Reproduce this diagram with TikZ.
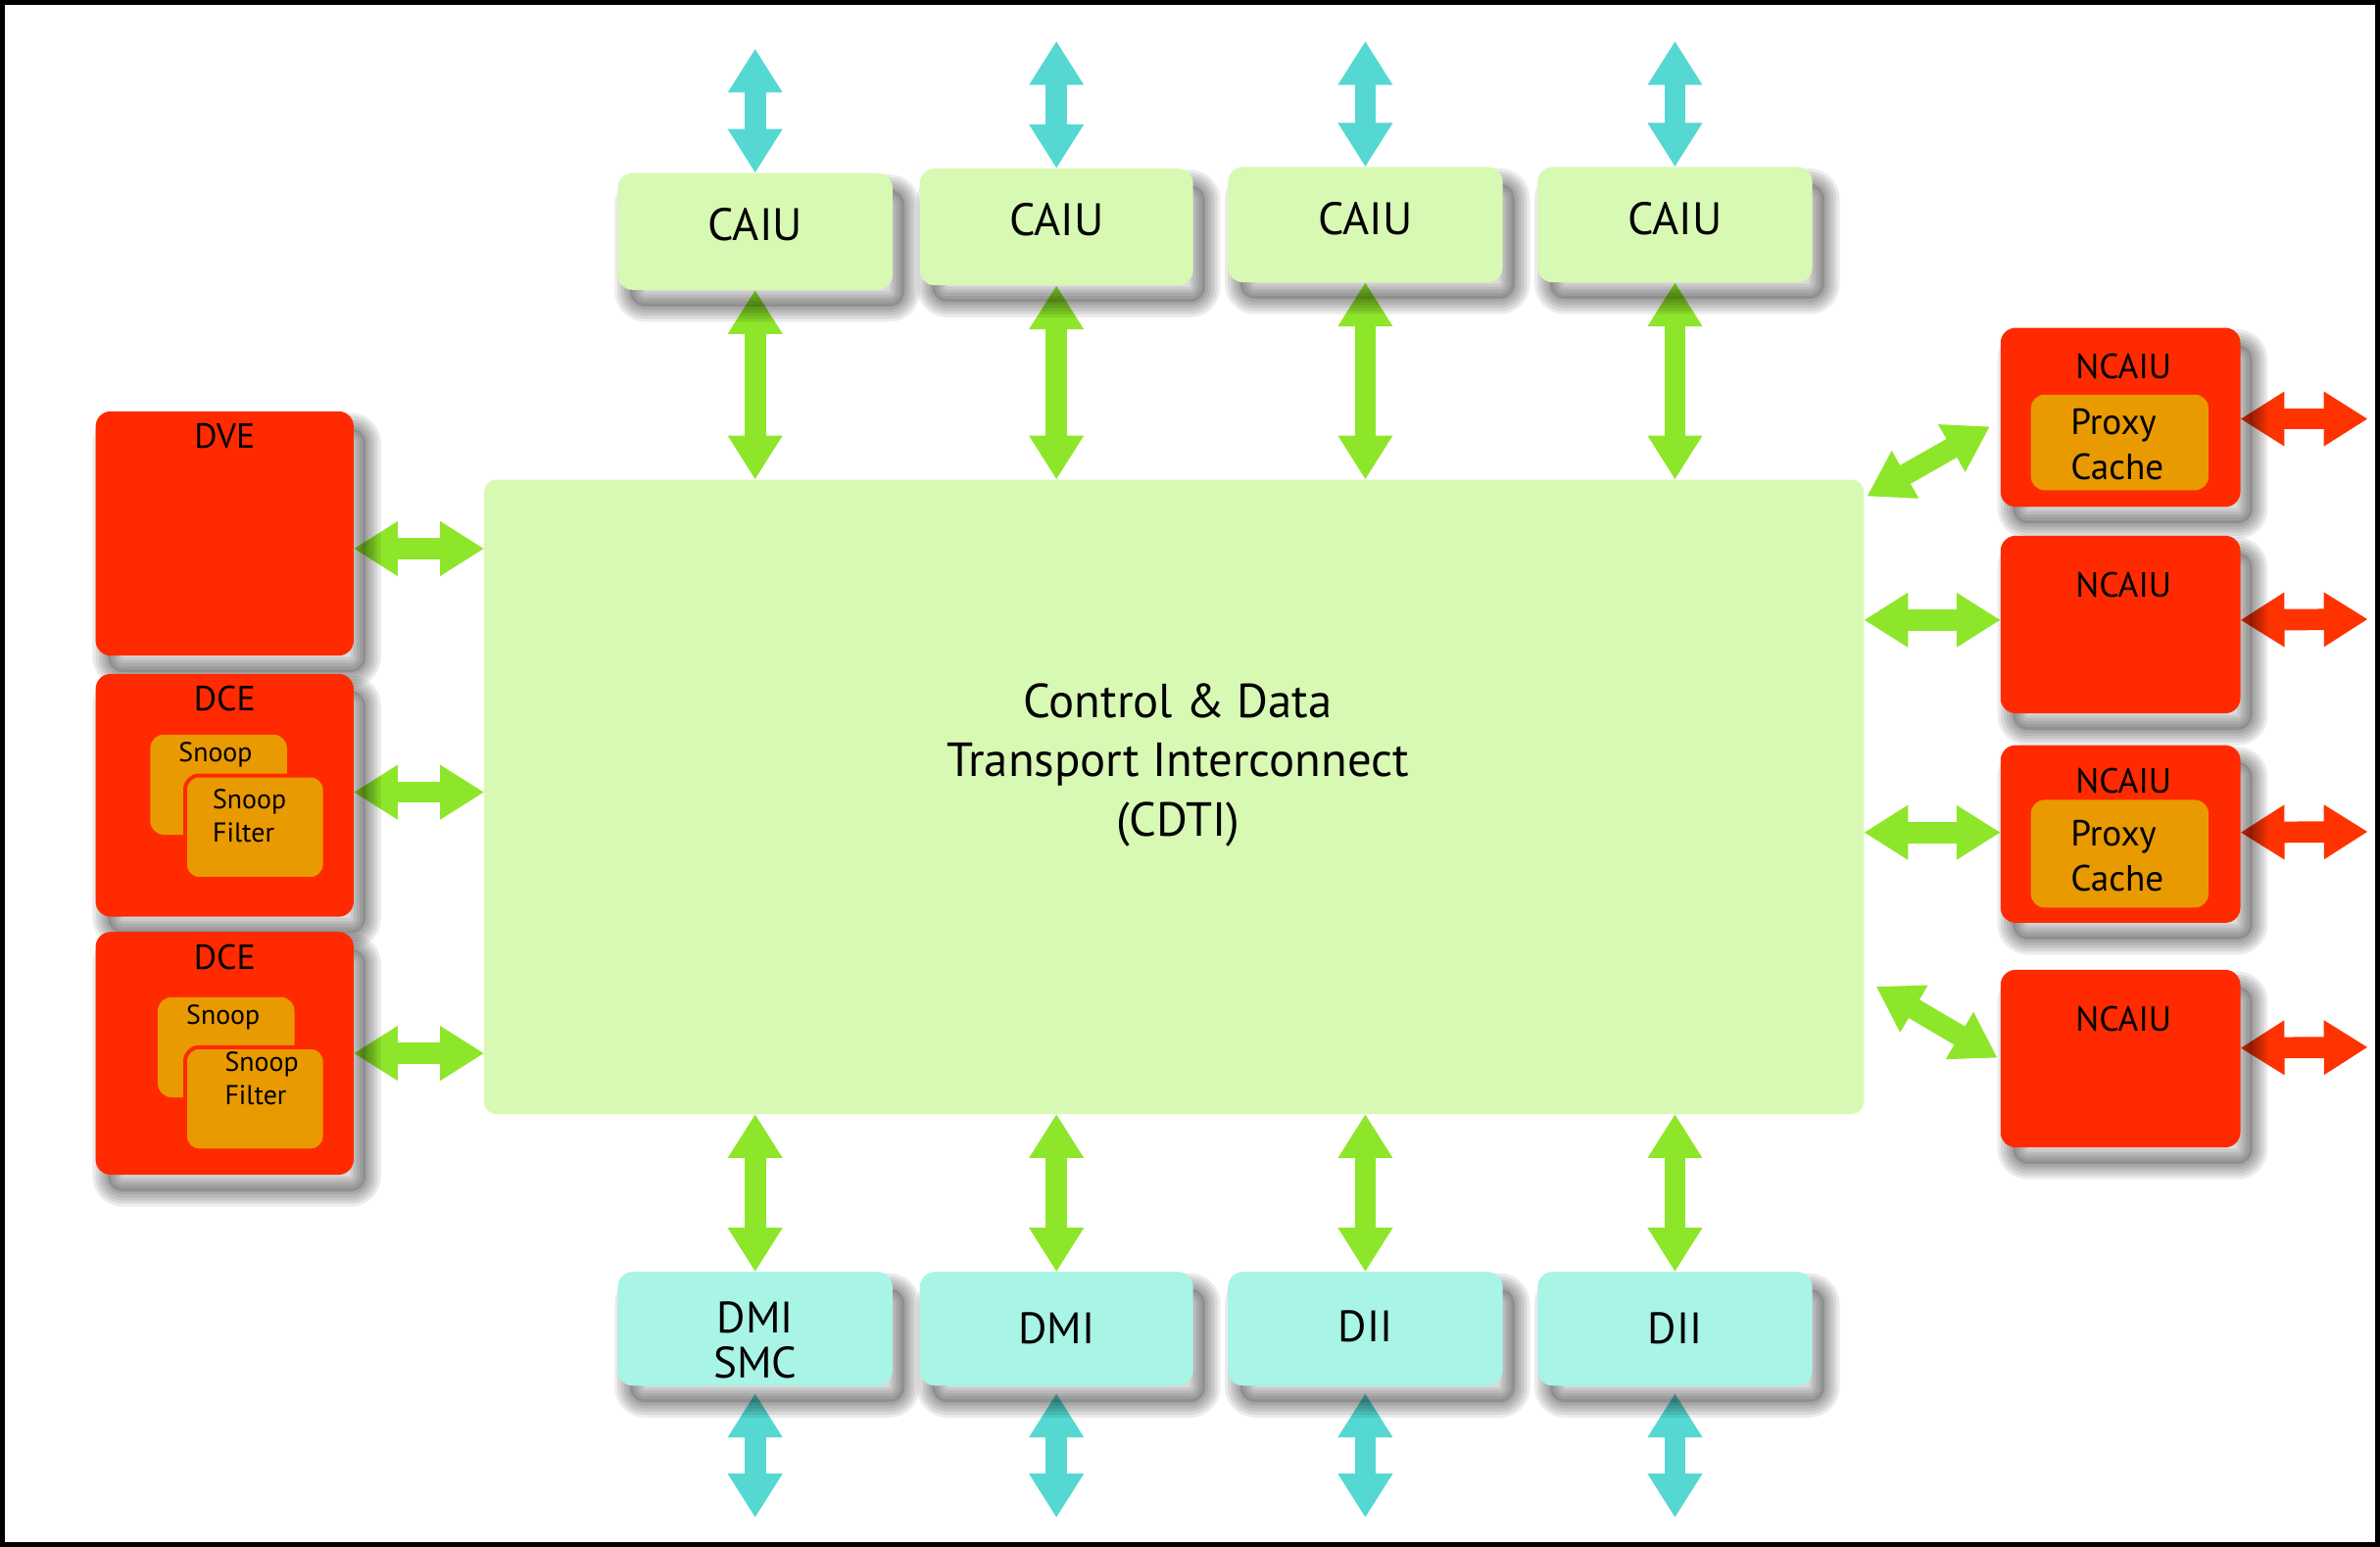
\documentclass[tikz,border=0pt]{standalone}
\usepackage{fontspec}
\setmainfont{PT Sans}
\usetikzlibrary{arrows.meta,calc}
\definecolor{redbox}{HTML}{FF2A00}
\definecolor{orbox}{HTML}{E89A00}
\definecolor{lgreen}{HTML}{D8F9B4}
\definecolor{lcyan}{HTML}{A8F4E6}
\definecolor{garrow}{HTML}{8EE62A}
\definecolor{carrow}{HTML}{55D8D2}
\definecolor{rarrow}{HTML}{FF3300}
\pgfdeclarelayer{bg}
\pgfsetlayers{bg,main}
\tikzset{
  sstep/.style={preaction={draw=black, draw opacity=0.08, line width=#1, transform canvas={xshift=8pt,yshift=-11pt}}},
  shad/.style={sstep=20pt, sstep=16pt, sstep=12pt, sstep=8pt, sstep=4pt,
    preaction={fill=black, fill opacity=0.14, transform canvas={xshift=8pt,yshift=-11pt}}},
  boxbase/.style={anchor=north west, rounded corners=10pt, inner sep=0pt, outer sep=0pt},
  topbox/.style={boxbase, fill=lgreen, shad, minimum width=181pt, minimum height=77pt, text depth=10pt, font=\fontsize{30}{34}\selectfont},
  botbox/.style={boxbase, fill=lcyan, shad, minimum width=181pt, minimum height=75pt, font=\fontsize{29}{30}\selectfont, align=center},
  redunit/.style={boxbase, fill=redbox, shad},
  toplabel/.style={anchor=north, font=\fontsize{23}{26}\selectfont, inner sep=0pt},
  inbox/.style={boxbase, fill=orbox, rounded corners=9pt},
  arr/.style={line width=14pt, {Triangle[width=34pt,length=29pt]}-{Triangle[width=34pt,length=29pt]}},
  garr/.style={arr, draw=garrow},
  carr/.style={arr, draw=carrow},
  rarr/.style={arr, draw=rarrow},
}
\begin{document}
\begin{tikzpicture}[x=1pt,y=-1pt]
\useasboundingbox (0,0) rectangle (1568,1019);
\begin{pgfonlayer}{bg}
\fill[white] (0,0) rectangle (1568,1019);
\end{pgfonlayer}
\draw[line width=3pt] (1.5,1.5) rectangle (1566.5,1017.5);

% central interconnect
\node[boxbase, fill=lgreen, rounded corners=8pt, minimum width=909pt, minimum height=418pt] (cdti) at (319,316) {};
\node[align=center, font=\fontsize{31.5}{39}\selectfont] (cdtitxt) at (776,504) {Control \& Data\\Transport Interconnect\\(CDTI)};

% top CAIU row
\node[topbox] (caiu1) at (407,114) {CAIU};
\node[topbox, minimum width=180pt] (caiu2) at (606,111) {CAIU};
\node[topbox, minimum height=76pt, text depth=8pt] (caiu3) at (809,110) {CAIU};
\node[topbox, minimum height=76pt, text depth=8pt] (caiu4) at (1013,110) {CAIU};

% bottom row
\node[botbox] (dmi1) at (407,838) {};
\node[align=center, font=\fontsize{29}{30}\selectfont, inner sep=0pt] (dmi1t) at (497.5,883) {DMI\\SMC};
\node[botbox, minimum width=180pt] (dmi2) at (606,838) {DMI};
\node[botbox, text depth=4pt] (dii1) at (809,838) {DII};
\node[botbox] (dii2) at (1013,838) {DII};

% left units
\node[redunit, minimum width=170pt, minimum height=161pt] (dve) at (63,271) {};
\node[toplabel] (dvel) at ($(dve.north)+(0,8)$) {DVE};
\node[redunit, minimum width=170pt, minimum height=160pt] (dce1) at (63,444) {};
\node[toplabel] (dce1l) at ($(dce1.north)+(0,8)$) {DCE};
\node[redunit, minimum width=170pt, minimum height=160pt] (dce2) at (63,614) {};
\node[toplabel] (dce2l) at ($(dce2.north)+(0,8)$) {DCE};

% snoop boxes
\node[inbox, minimum width=90pt, minimum height=66pt] (sb1) at (99,484) {};
\node[anchor=north, font=\fontsize{18}{21}\selectfont, inner sep=0pt] (sb1t) at (142,489) {Snoop};
\node[inbox, draw=redbox, line width=2.5pt, minimum width=92pt, minimum height=68pt] (sf1) at (122,511) {};
\node[anchor=north west, align=left, font=\fontsize{18}{22}\selectfont, inner sep=0pt] (sf1t) at (140,520) {Snoop\\Filter};

\node[inbox, minimum width=90pt, minimum height=66pt] (sb2) at (104,657) {};
\node[anchor=north, font=\fontsize{18}{21}\selectfont, inner sep=0pt] (sb2t) at (147,662) {Snoop};
\node[inbox, draw=redbox, line width=2.5pt, minimum width=92pt, minimum height=68pt] (sf2) at (122,690) {};
\node[anchor=north west, align=left, font=\fontsize{18}{22}\selectfont, inner sep=0pt] (sf2t) at (148,693) {Snoop\\Filter};

% right units
\node[redunit, minimum width=158pt, minimum height=118pt] (n1) at (1318,216) {};
\node[toplabel] (n1l) at ($(n1.north)+(2,17)$) {NCAIU};
\node[redunit, minimum width=158pt, minimum height=117pt] (n2) at (1318,353) {};
\node[toplabel] (n2l) at ($(n2.north)+(2,24)$) {NCAIU};
\node[redunit, minimum width=158pt, minimum height=117pt] (n3) at (1318,491) {};
\node[toplabel] (n3l) at ($(n3.north)+(2,15)$) {NCAIU};
\node[redunit, minimum width=158pt, minimum height=117pt] (n4) at (1318,639) {};
\node[toplabel] (n4l) at ($(n4.north)+(2,24)$) {NCAIU};

\node[inbox, minimum width=117pt, minimum height=63pt] (pc1) at (1338,260) {};
\node[anchor=north west, align=left, font=\fontsize{24}{30}\selectfont, inner sep=0pt] (pc1t) at (1364,269) {Proxy\\Cache};
\node[inbox, minimum width=117pt, minimum height=71pt] (pc3) at (1338,527) {};
\node[anchor=north west, align=left, font=\fontsize{24}{30}\selectfont, inner sep=0pt] (pc3t) at (1364,540) {Proxy\\Cache};

% free ends
\coordinate (t1) at (497.5,32);
\coordinate (t2) at (696,27);
\coordinate (t3) at (899.5,27);
\coordinate (t4) at (1103.5,27);
\coordinate (b1) at (497.5,1000);
\coordinate (b2) at (696,1000);
\coordinate (b3) at (899.5,1000);
\coordinate (b4) at (1103.5,1000);
\coordinate (r1) at (1560,276);
\coordinate (r2) at (1560,408);
\coordinate (r3) at (1560,548);
\coordinate (r4) at (1560,690);
\coordinate (g1a) at (1230,327);
\coordinate (g1b) at (1311,281);
\coordinate (g4a) at (1236,650);
\coordinate (g4b) at (1316,697);

\begin{pgfonlayer}{bg}
% top
\foreach \n/\t in {caiu1/t1,caiu2/t2,caiu3/t3,caiu4/t4}{
  \draw[carr] (\t) -- (\n.north);
  \draw[garr] (\n.south) -- (\n.south |- cdti.north);
}
% bottom
\foreach \n/\t in {dmi1/b1,dmi2/b2,dii1/b3,dii2/b4}{
  \draw[carr] ([yshift=-5pt]\n.south) -- (\t);
  \draw[garr] (\n.north |- cdti.south) -- (\n.north);
}
% left
\draw[garr] ([yshift=-10pt]dve.east) -- ([yshift=-10pt]dve.east -| cdti.west);
\draw[garr] ([yshift=2pt]dce1.east) -- ([yshift=2pt]dce1.east -| cdti.west);
\draw[garr] (dce2.east) -- (dce2.east -| cdti.west);
% right
\draw[garr] (g1a) -- (g1b);
\draw[garr] ([yshift=3pt]n2.west -| cdti.east) -- ([yshift=3pt]n2.west);
\draw[garr] ([yshift=1pt]n3.west -| cdti.east) -- ([yshift=1pt]n3.west);
\draw[garr] (g4a) -- (g4b);
\draw[rarr] ([yshift=-1pt]n1.east) -- (r1);
\draw[rarr] ([yshift=3pt]n2.east) -- (r2);
\draw[rarr] ([yshift=1pt]n3.east) -- (r3);
\draw[rarr] ([yshift=7pt]n4.east) -- (r4);
\end{pgfonlayer}
\end{tikzpicture}
\end{document}
